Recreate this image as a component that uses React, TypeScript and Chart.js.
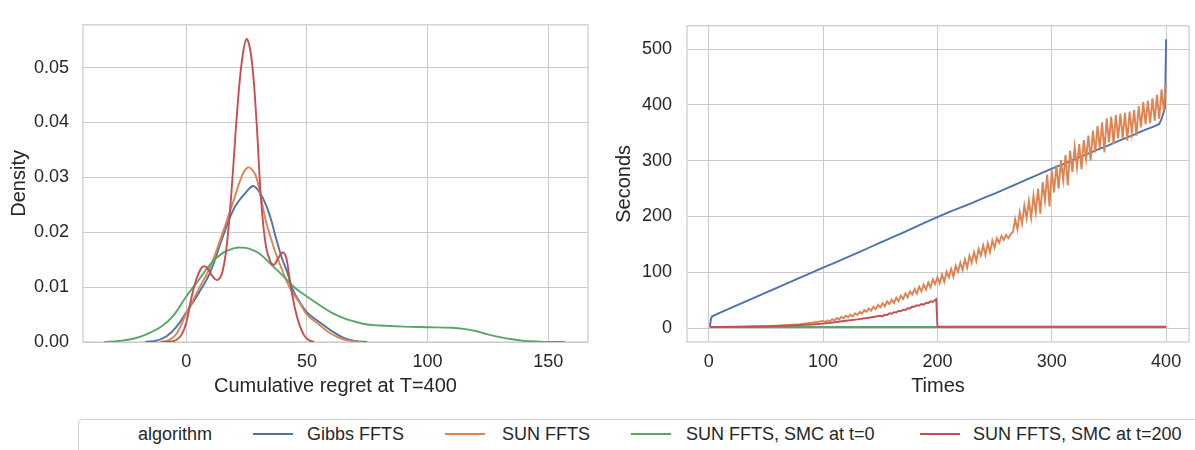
import React, { useEffect, useRef } from "react";
import { Chart, registerables } from "chart.js";

Chart.register(...registerables);

// ---------- shared ----------
const SERIES_NAMES = ["Gibbs FFTS", "SUN FFTS", "SUN FFTS, SMC at t=0", "SUN FFTS, SMC at t=200"];
const SERIES_COLORS = ["#4C72B0", "#DD8452", "#55A868", "#C44E52"];
const LEGEND_TITLE = "algorithm";

// ---------- left panel: KDE of cumulative regret ----------
const regretTicks = [0, 50, 100, 150];
const densityTicks = [0, 0.01, 0.02, 0.03, 0.04, 0.05];

const kdeGibbsX = [-17, -12, -8, -4, 0, 5, 10, 15, 20, 25, 28, 32, 35, 37, 39.5, 42, 44, 47, 50, 55, 60, 65, 70, 75];
const kdeGibbsY = [0, 0.0003, 0.0011, 0.0028, 0.0054, 0.0088, 0.0128, 0.019, 0.0245, 0.0274, 0.0284, 0.026, 0.0225, 0.0192, 0.0155, 0.0125, 0.0097, 0.0073, 0.0054, 0.0037, 0.0021, 0.0008, 0.0002, 0];

const kdeSunX = [-11, -7, -4, 0, 5, 10, 15, 20, 23, 25.5, 28, 29.5, 31, 33, 35, 37, 40, 43, 47, 50, 55, 60, 65, 70, 73];
const kdeSunY = [0, 0.0004, 0.0015, 0.0052, 0.0095, 0.0138, 0.0198, 0.0263, 0.0302, 0.0318, 0.031, 0.0293, 0.0262, 0.022, 0.019, 0.0163, 0.0128, 0.0098, 0.0071, 0.005, 0.0032, 0.0015, 0.0005, 0.0001, 0];

const kdeSmc0X = [-34, -28, -22, -16, -10, -5, 0, 5, 10, 15, 20, 23, 26, 30, 35, 40, 45, 50, 55, 60, 65, 70, 75, 80, 90, 100, 110, 115, 120, 125, 130, 135, 140, 145, 150, 157];
const kdeSmc0Y = [0, 0.0002, 0.0006, 0.0015, 0.0029, 0.005, 0.0083, 0.0112, 0.0142, 0.0162, 0.0171, 0.0172, 0.017, 0.0162, 0.0142, 0.0121, 0.0099, 0.0083, 0.0068, 0.0054, 0.0044, 0.0037, 0.0032, 0.003, 0.0028, 0.0027, 0.0026, 0.0024, 0.002, 0.0014, 0.0009, 0.0005, 0.0002, 0.0001, 0, 0];

const kdeSmc200X = [-10, -6, -4, -2, 0, 2, 4, 6, 7.5, 9, 11, 13, 15, 17, 19, 21, 23, 25, 27, 29, 31, 33, 35, 36.5, 38, 40, 41.5, 43, 45, 47, 49, 51, 53];
const kdeSmc200Y = [0, 0.0001, 0.0004, 0.0013, 0.0035, 0.0078, 0.0112, 0.0133, 0.0138, 0.0133, 0.0119, 0.0113, 0.0128, 0.0185, 0.029, 0.0415, 0.051, 0.0552, 0.0518, 0.041, 0.026, 0.0175, 0.0145, 0.0141, 0.0152, 0.0163, 0.0152, 0.011, 0.0062, 0.003, 0.0011, 0.0003, 0];

// ---------- right panel: seconds over time ----------
const timeTicks = [0, 100, 200, 300, 400];
const secondsTicks = [0, 100, 200, 300, 400, 500];

const gibbsTimes = [1, 2, 3, 10, 20, 30, 40, 50, 60, 70, 80, 90, 100, 110, 120, 130, 140, 150, 160, 170, 180, 190, 200, 210, 220, 230, 240, 250, 260, 270, 280, 290, 300, 310, 320, 330, 340, 350, 360, 370, 380, 390, 394, 396, 398, 399, 400];
const gibbsSeconds = [2, 17, 21, 27.5, 36.5, 45.5, 54.5, 63.5, 72.5, 81.5, 90.5, 99.5, 108.5, 117, 126, 135, 144, 153, 162, 171, 180.5, 190, 199, 208, 216, 224, 233, 241, 250, 259, 268, 277, 286, 294, 303, 311, 320, 328, 337, 345, 354, 362, 366, 375, 388, 395, 518];

const sunTimes = [
  1, 10, 20, 30, 40, 50, 60, 70, 80, 90,
  100, 102, 104, 106, 108, 110, 112, 114, 116, 118,
  120, 122, 124, 126, 128, 130, 132, 134, 136, 138,
  140, 142, 144, 146, 148, 150, 152, 154, 156, 158,
  160, 162, 164, 166, 168, 170, 172, 174, 176, 178,
  180, 182, 184, 186, 188, 190, 192, 194, 196, 198,
  200, 202, 204, 206, 208, 210, 212, 214, 216, 218,
  220, 222, 224, 226, 228, 230, 232, 234, 236, 238,
  240, 242, 244, 246, 248, 250, 252, 254, 256, 258,
  260, 262, 264, 266, 268, 270, 272, 274, 276, 278,
  280, 282, 284, 286, 288, 290, 292, 294, 296, 298,
  300, 302, 304, 306, 308, 310, 312, 314, 316, 318,
  320, 322, 324, 326, 328, 330, 332, 334, 336, 338,
  340, 342, 344, 346, 348, 350, 352, 354, 356, 358,
  360, 362, 364, 366, 368, 370, 372, 374, 376, 378,
  380, 382, 384, 386, 388, 390, 392, 394, 396, 398,
  400,
];
const sunSeconds = [
  2, 2.1, 2.3, 2.6, 3, 3.5, 4.3, 5.5, 7, 9.5,
  12.5, 11, 14, 12, 16, 14, 18, 15.5, 20, 18,
  22, 19.5, 24, 21, 26.5, 23.5, 29, 26, 32, 29,
  35, 31, 38, 34, 41.5, 37, 44.5, 39, 48, 43,
  51, 45, 54.5, 48, 58, 52, 62, 55, 66, 60,
  70, 62, 74, 66, 78, 69, 82, 73, 87, 79,
  91, 80, 96, 83, 101, 91, 106, 92, 112, 101,
  117, 104, 123, 108, 130, 117, 136, 120, 142, 130,
  148, 131, 152, 136, 157, 144, 161, 153, 165, 158,
  167, 161, 168, 172, 195, 177, 208, 187, 220, 197,
  228, 198, 238, 207, 250, 205, 262, 228, 275, 218,
  283, 243, 292, 250, 301, 265, 310, 256, 318, 280,
  325, 288, 330, 285, 337, 303, 345, 300, 354, 315,
  362, 322, 369, 315, 376, 333, 379, 330, 382, 340,
  384, 340, 386, 336, 388, 350, 391, 345, 398, 360,
  405, 365, 408, 367, 412, 372, 418, 375, 428, 390,
  440,
];

const smc0Times = [1, 100, 200, 300, 400];
const smc0Seconds = [2, 2, 2, 2, 2];

const smc200Times = [
  1, 10, 20, 30, 40, 50, 60, 70, 80, 90, 100, 110, 120, 130, 140, 150,
  152, 154, 156, 158, 160, 162, 164, 166, 168, 170, 172, 174, 176, 178,
  180, 182, 184, 186, 188, 190, 192, 194, 196, 198, 199, 200, 250, 300, 350, 400,
];
const smc200Seconds = [
  2, 2.1, 2.2, 2.4, 2.7, 3.1, 3.6, 4.3, 5.2, 6.3, 8, 10.5, 13, 15.5, 18.5, 22,
  21, 24, 23.5, 26.5, 25.5, 28.5, 28, 31, 30, 33, 32.5, 35.5, 35, 38.5,
  38, 41, 40, 43, 42, 45.5, 44.5, 48, 47, 50.5, 52, 2.5, 2.5, 2.5, 2.5, 2.5,
];

// ---------- styling ----------
const FONT = '"Liberation Sans", Arial, Helvetica, sans-serif';
const TEXT = "#262626";
const GRID = "#cccccc";
const TICK_SIZE = 18;
const TITLE_SIZE = 20;

const pairs = (xs: number[], ys: number[]) => xs.map((x, i) => ({ x, y: ys[i] }));

const framePlugin = {
  id: "frame",
  beforeDatasetsDraw(chart: any) {
    const { ctx, chartArea: a } = chart;
    ctx.save();
    ctx.strokeStyle = GRID;
    ctx.lineWidth = 1.25;
    ctx.strokeRect(a.left, a.top, a.right - a.left, a.bottom - a.top);
    ctx.restore();
  },
};

function axis(opts: {
  min: number; max: number; ticks: number[]; title: string; horizontal: boolean;
  size: number; titlePad: any; tickPad: number; fmt?: (v: number) => string;
}) {
  return {
    type: "linear",
    min: opts.min,
    max: opts.max,
    afterBuildTicks: (s: any) => {
      s.ticks = opts.ticks.map((v) => ({ value: v }));
    },
    afterFit: (s: any) => {
      if (opts.horizontal) s.height = opts.size;
      else s.width = opts.size;
    },
    grid: { color: GRID, lineWidth: 1, drawTicks: false },
    border: { display: false },
    ticks: {
      color: TEXT,
      font: { family: FONT, size: TICK_SIZE },
      padding: opts.tickPad,
      maxRotation: 0,
      autoSkip: false,
      callback: opts.fmt ? (v: any) => opts.fmt!(Number(v)) : (v: any) => String(v),
    },
    title: {
      display: true,
      text: opts.title,
      color: TEXT,
      font: { family: FONT, size: TITLE_SIZE },
      padding: opts.titlePad,
    },
  };
}

function lineDataset(i: number, data: any[], smooth: boolean) {
  return {
    label: SERIES_NAMES[i],
    data,
    borderColor: SERIES_COLORS[i],
    backgroundColor: SERIES_COLORS[i],
    borderWidth: 1.9,
    pointRadius: 0,
    fill: false,
    order: 4 - i,
    tension: smooth ? 0.4 : 0,
  };
}

function ChartCanvas({ config, left, width, height }: any) {
  const ref = useRef<HTMLCanvasElement>(null);
  useEffect(() => {
    const chart = new Chart(ref.current!, config);
    return () => chart.destroy();
  }, []);
  return (
    <canvas
      ref={ref}
      width={width}
      height={height}
      style={{ position: "absolute", left, top: 0, width, height }}
    />
  );
}

const leftConfig: any = {
  type: "line",
  data: {
    datasets: [
      lineDataset(0, pairs(kdeGibbsX, kdeGibbsY), true),
      lineDataset(1, pairs(kdeSunX, kdeSunY), true),
      lineDataset(2, pairs(kdeSmc0X, kdeSmc0Y), true),
      lineDataset(3, pairs(kdeSmc200X, kdeSmc200Y), true),
    ],
  },
  options: {
    responsive: false,
    animation: false,
    devicePixelRatio: 1,
    layout: { padding: { top: 9, right: 12, left: 0, bottom: 0 } },
    plugins: { legend: { display: false }, tooltip: { enabled: false } },
    scales: {
      x: axis({ min: -42.8, max: 166.5, ticks: regretTicks, title: "Cumulative regret at T=400", horizontal: true, size: 68, titlePad: { top: 0, bottom: 12 }, tickPad: 9 }),
      y: axis({ min: 0, max: 0.0578, ticks: densityTicks, title: "Density", horizontal: false, size: 83, titlePad: { top: 7, bottom: 0 }, tickPad: 14, fmt: (v) => v.toFixed(2) }),
    },
  },
  plugins: [framePlugin],
};

const rightConfig: any = {
  type: "line",
  data: {
    datasets: [
      lineDataset(0, pairs(gibbsTimes, gibbsSeconds), false),
      lineDataset(1, pairs(sunTimes, sunSeconds), false),
      lineDataset(2, pairs(smc0Times, smc0Seconds), false),
      lineDataset(3, pairs(smc200Times, smc200Seconds), false),
    ],
  },
  options: {
    responsive: false,
    animation: false,
    devicePixelRatio: 1,
    layout: { padding: { top: 9, right: 6, left: 0, bottom: 0 } },
    plugins: { legend: { display: false }, tooltip: { enabled: false } },
    scales: {
      x: axis({ min: -19, max: 420, ticks: timeTicks, title: "Times", horizontal: true, size: 68, titlePad: { top: 0, bottom: 12 }, tickPad: 9 }),
      y: axis({ min: -25, max: 542, ticks: secondsTicks, title: "Seconds", horizontal: false, size: 87, titlePad: { top: 12, bottom: 0 }, tickPad: 15 }),
    },
  },
  plugins: [framePlugin],
};

// legend layout (x positions inside the legend frame)
const legendHandleX = [174, 366, 552, 841];
const legendTextX = [228, 423, 607, 894];

function Legend() {
  const textStyle: React.CSSProperties = {
    position: "absolute",
    top: 4,
    fontFamily: FONT,
    fontSize: 18,
    lineHeight: "20px",
    color: TEXT,
    whiteSpace: "nowrap",
  };
  return (
    <div
      style={{
        position: "absolute",
        left: 78,
        top: 419,
        width: 1200,
        height: 60,
        border: "1px solid #d0d0d0",
        borderRadius: 4,
        background: "#fff",
        boxSizing: "border-box",
      }}
    >
      <span style={{ ...textStyle, left: 59 }}>{LEGEND_TITLE}</span>
      {SERIES_NAMES.map((name, i) => (
        <React.Fragment key={name}>
          <div
            style={{
              position: "absolute",
              left: legendHandleX[i],
              top: 13,
              width: 40,
              height: 2,
              background: SERIES_COLORS[i],
            }}
          />
          <span style={{ ...textStyle, left: legendTextX[i] }}>{name}</span>
        </React.Fragment>
      ))}
    </div>
  );
}

export default function App() {
  return (
    <div
      style={{
        position: "fixed",
        left: 0,
        top: 0,
        width: 1195,
        height: 450,
        overflow: "hidden",
        background: "#ffffff",
      }}
    >
      <ChartCanvas config={leftConfig} left={0} width={600} height={410} />
      <ChartCanvas config={rightConfig} left={600} width={595} height={410} />
      <Legend />
    </div>
  );
}
